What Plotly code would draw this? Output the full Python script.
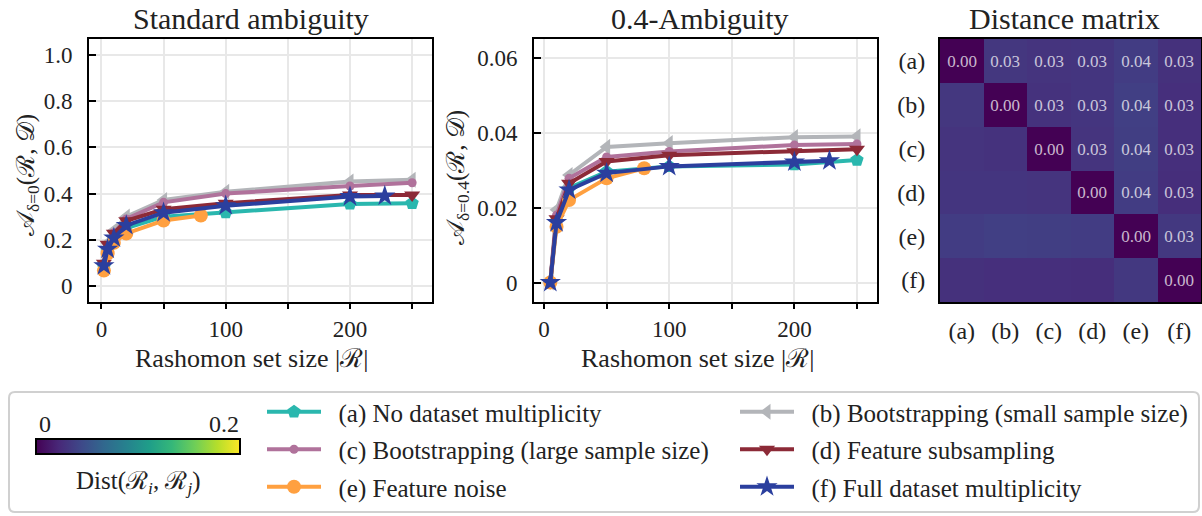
import plotly.graph_objects as go

W, H = 1202, 516

# ---------------- data ----------------
names = ["(a) No dataset multiplicity", "(b) Bootstrapping (small sample size)",
         "(c) Bootstrapping (large sample size)", "(d) Feature subsampling",
         "(e) Feature noise", "(f) Full dataset multiplicity"]
colors = ["#2ab7ae", "#b3b5b9", "#b0729b", "#8c2a37", "#ffa040", "#2b3f9e"]
symbols = ["pentagon", "triangle-left", "circle", "triangle-down", "circle", "star"]
msizes = [14, 14, 9, 14, 14, 16]

# Standard ambiguity (delta = 0)
x_std_a = [2, 5, 10, 20, 50, 100, 200, 250]
y_std_a = [0.080, 0.150, 0.205, 0.250, 0.300, 0.318, 0.355, 0.358]
x_std_b = [2, 5, 10, 20, 50, 100, 200, 250]
y_std_b = [0.100, 0.185, 0.240, 0.300, 0.372, 0.408, 0.452, 0.460]
x_std_c = [2, 5, 10, 20, 50, 100, 200, 250]
y_std_c = [0.095, 0.175, 0.230, 0.290, 0.362, 0.400, 0.433, 0.447]
x_std_d = [2, 5, 10, 20, 50, 100, 200, 250]
y_std_d = [0.098, 0.180, 0.228, 0.282, 0.332, 0.358, 0.394, 0.394]
x_std_e = [2, 5, 10, 20, 50, 80]
y_std_e = [0.066, 0.141, 0.187, 0.227, 0.283, 0.305]
x_std_f = [2, 5, 10, 20, 50, 100, 200, 228]
y_std_f = [0.087, 0.159, 0.208, 0.262, 0.317, 0.347, 0.387, 0.390]

# 0.4-Ambiguity
x_amb_a = [5, 10, 20, 50, 100, 200, 250]
y_amb_a = [0.0, 0.0163, 0.0252, 0.0296, 0.0310, 0.0315, 0.0327]
x_amb_b = [5, 10, 20, 50, 100, 200, 250]
y_amb_b = [0.0, 0.0194, 0.0287, 0.0362, 0.0372, 0.0388, 0.0390]
x_amb_c = [5, 10, 20, 50, 100, 200, 250]
y_amb_c = [0.0, 0.0180, 0.0278, 0.0335, 0.0350, 0.0367, 0.0370]
x_amb_d = [5, 10, 20, 50, 100, 200, 250]
y_amb_d = [0.0, 0.0170, 0.0265, 0.0323, 0.0340, 0.0349, 0.0356]
x_amb_e = [5, 10, 20, 50, 80]
y_amb_e = [0.0, 0.0149, 0.0220, 0.0278, 0.0305]
x_amb_f = [5, 10, 20, 50, 100, 200, 228]
y_amb_f = [0.0, 0.0160, 0.0247, 0.0292, 0.0310, 0.0322, 0.0325]

# Distance matrix
mat_labels = ["(a)", "(b)", "(c)", "(d)", "(e)", "(f)"]
dist = [
    [0.000, 0.032, 0.030, 0.031, 0.036, 0.028],
    [0.032, 0.000, 0.029, 0.031, 0.038, 0.027],
    [0.030, 0.029, 0.000, 0.030, 0.037, 0.027],
    [0.031, 0.031, 0.030, 0.000, 0.036, 0.026],
    [0.036, 0.038, 0.037, 0.036, 0.000, 0.033],
    [0.028, 0.027, 0.027, 0.026, 0.033, 0.000],
]

std_ticks = [0, 0.2, 0.4, 0.6, 0.8, 1.0]
std_ticktext = ["0", "0.2", "0.4", "0.6", "0.8", "1.0"]
amb_ticks = [0, 0.02, 0.04, 0.06]
amb_ticktext = ["0", "0.02", "0.04", "0.06"]
x_ticks = [0, 100, 200]
x_ticktext = ["0", "100", "200"]

FONT = "Liberation Serif, DejaVu Serif, serif"
TXT = "#222222"
GRID = "#e8e8e8"

# ---------------- figure ----------------
def px(x):
    return x / W

def py(y):
    return 1 - y / H

fig = go.Figure()

std_x = [x_std_a, x_std_b, x_std_c, x_std_d, x_std_e, x_std_f]
std_y = [y_std_a, y_std_b, y_std_c, y_std_d, y_std_e, y_std_f]
amb_x = [x_amb_a, x_amb_b, x_amb_c, x_amb_d, x_amb_e, x_amb_f]
amb_y = [y_amb_a, y_amb_b, y_amb_c, y_amb_d, y_amb_e, y_amb_f]

legend_for = ["legend", "legend2", "legend", "legend2", "legend", "legend2"]

for i in range(6):
    fig.add_trace(go.Scatter(
        x=std_x[i], y=std_y[i], mode="lines+markers", name="\u2002" + names[i],
        line=dict(color=colors[i], width=4),
        marker=dict(symbol=symbols[i], size=msizes[i], color=colors[i]),
        xaxis="x", yaxis="y", legend=legend_for[i], legendgroup=names[i],
        showlegend=True))
for i in range(6):
    fig.add_trace(go.Scatter(
        x=amb_x[i], y=amb_y[i], mode="lines+markers", name=names[i],
        line=dict(color=colors[i], width=4),
        marker=dict(symbol=symbols[i], size=msizes[i], color=colors[i]),
        xaxis="x2", yaxis="y2", legendgroup=names[i], showlegend=False))

text = [[("%.2f" % dist[r][c]) if c >= r else "" for c in range(6)] for r in range(6)]
fig.add_trace(go.Heatmap(
    z=dist, x=mat_labels, y=mat_labels, text=text, texttemplate="%{text}",
    textfont=dict(family=FONT, size=17, color="rgba(255,255,255,0.72)"),
    colorscale="Viridis", zmin=0, zmax=0.2, xaxis="x3", yaxis="y3",
    colorbar=dict(orientation="h", x=px(35.5), xanchor="left",
                  y=py(456), yanchor="bottom", len=204, lenmode="pixels",
                  thickness=15, xpad=0, ypad=0, outlinewidth=2,
                  outlinecolor="black", showticklabels=False, ticks=""),
))

top, bot = 39, 302
common_x = dict(showline=True, linecolor="black", linewidth=2, mirror=True,
                showgrid=True, gridcolor=GRID, gridwidth=1.5, zeroline=False,
                ticks="outside", ticklen=5, tickwidth=2, tickcolor="black",
                tickvals=x_ticks, ticktext=x_ticktext,
                minor=dict(dtick=50, tick0=0, ticks="outside", ticklen=5,
                           tickwidth=2, tickcolor="black", showgrid=True,
                           gridcolor=GRID, gridwidth=1.5),
                tickfont=dict(family=FONT, size=23, color=TXT))
common_y = dict(showline=True, linecolor="black", linewidth=2, mirror=True,
                showgrid=True, gridcolor=GRID, gridwidth=1.5, zeroline=False,
                ticks="inside", ticklen=7, tickwidth=2, tickcolor="black",
                ticklabelstandoff=10,
                tickfont=dict(family=FONT, size=23, color=TXT))

fig.update_layout(
    width=W, height=H, margin=dict(l=0, r=0, t=0, b=0, autoexpand=False),
    paper_bgcolor="white", plot_bgcolor="white",
    font=dict(family=FONT, color=TXT),
    xaxis=dict(domain=[px(89), px(432)], range=[-10, 266], anchor="y", **common_x),
    yaxis=dict(domain=[py(bot), py(top)], range=[-0.07, 1.07], anchor="x",
               tickvals=std_ticks, ticktext=std_ticktext, **common_y),
    xaxis2=dict(domain=[px(534), px(877)], range=[-8, 266], anchor="y2", **common_x),
    yaxis2=dict(domain=[py(bot), py(top)], range=[-0.0052, 0.065], anchor="x2",
                tickvals=amb_ticks, ticktext=amb_ticktext, **common_y),
    xaxis3=dict(domain=[px(940), px(1201)], anchor="y3", showline=True,
                linecolor="black", linewidth=2, mirror=True, ticks="",
                showgrid=False, zeroline=False, ticklabelstandoff=6,
                tickfont=dict(family=FONT, size=24, color=TXT)),
    yaxis3=dict(domain=[py(bot), py(top)], anchor="x3", autorange="reversed",
                showline=True, linecolor="black", linewidth=2, mirror=True,
                ticks="", showgrid=False, zeroline=False, ticklabelstandoff=8,
                tickfont=dict(family=FONT, size=24, color=TXT)),
    legend=dict(x=px(262), y=py(389), xanchor="left", yanchor="top",
                bgcolor="rgba(0,0,0,0)", itemwidth=54, tracegroupgap=2,
                font=dict(family=FONT, size=25, color=TXT)),
    legend2=dict(x=px(735), y=py(389), xanchor="left", yanchor="top",
                 bgcolor="rgba(0,0,0,0)", itemwidth=54, tracegroupgap=2,
                 font=dict(family=FONT, size=25, color=TXT)),
)

def ann(x, y, t, size=25, xanchor="center", angle=0):
    fig.add_annotation(x=px(x), y=py(y), xref="paper", yref="paper", text=t,
                       showarrow=False, xanchor=xanchor, yanchor="middle",
                       textangle=angle, font=dict(family=FONT, size=size, color=TXT))

ann(251, 19, "Standard ambiguity", 30)
ann(700, 19, "0.4-Ambiguity", 30)
ann(1064, 19, "Distance matrix", 30)
ann(251, 358, "Rashomon set size |ℛ|", 26)
ann(697, 358, "Rashomon set size |ℛ|", 26)
ann(28, 175, "𝒜<sub>δ=0</sub>(ℛ, 𝒟)", 25, angle=-90)
ann(458, 178, "𝒜<sub>δ=0.4</sub>(ℛ, 𝒟)", 25, angle=-90)
ann(37, 424, "0", 24, xanchor="left")
ann(241, 424, "0.2", 24, xanchor="right")
ann(138, 482, "Dist(ℛ<sub><i>i</i></sub>, ℛ<sub><i>j</i></sub>)", 25)

# rounded legend frame
x0, x1, y0, y1 = px(9), px(1199), py(392), py(512)
rx, ry = 6 / W, 6 / H
path = (f"M {x0+rx},{y0} L {x1-rx},{y0} Q {x1},{y0} {x1},{y0-ry} "
        f"L {x1},{y1+ry} Q {x1},{y1} {x1-rx},{y1} L {x0+rx},{y1} "
        f"Q {x0},{y1} {x0},{y1+ry} L {x0},{y0-ry} Q {x0},{y0} {x0+rx},{y0} Z")
fig.add_shape(type="path", path=path, xref="paper", yref="paper",
              line=dict(color="#d0d0d0", width=2), fillcolor="rgba(0,0,0,0)")

fig.write_html(
    "out.html",
    config={"displayModeBar": False},
    post_script="document.body.style.margin='0';document.body.style.overflow='hidden';",
)
